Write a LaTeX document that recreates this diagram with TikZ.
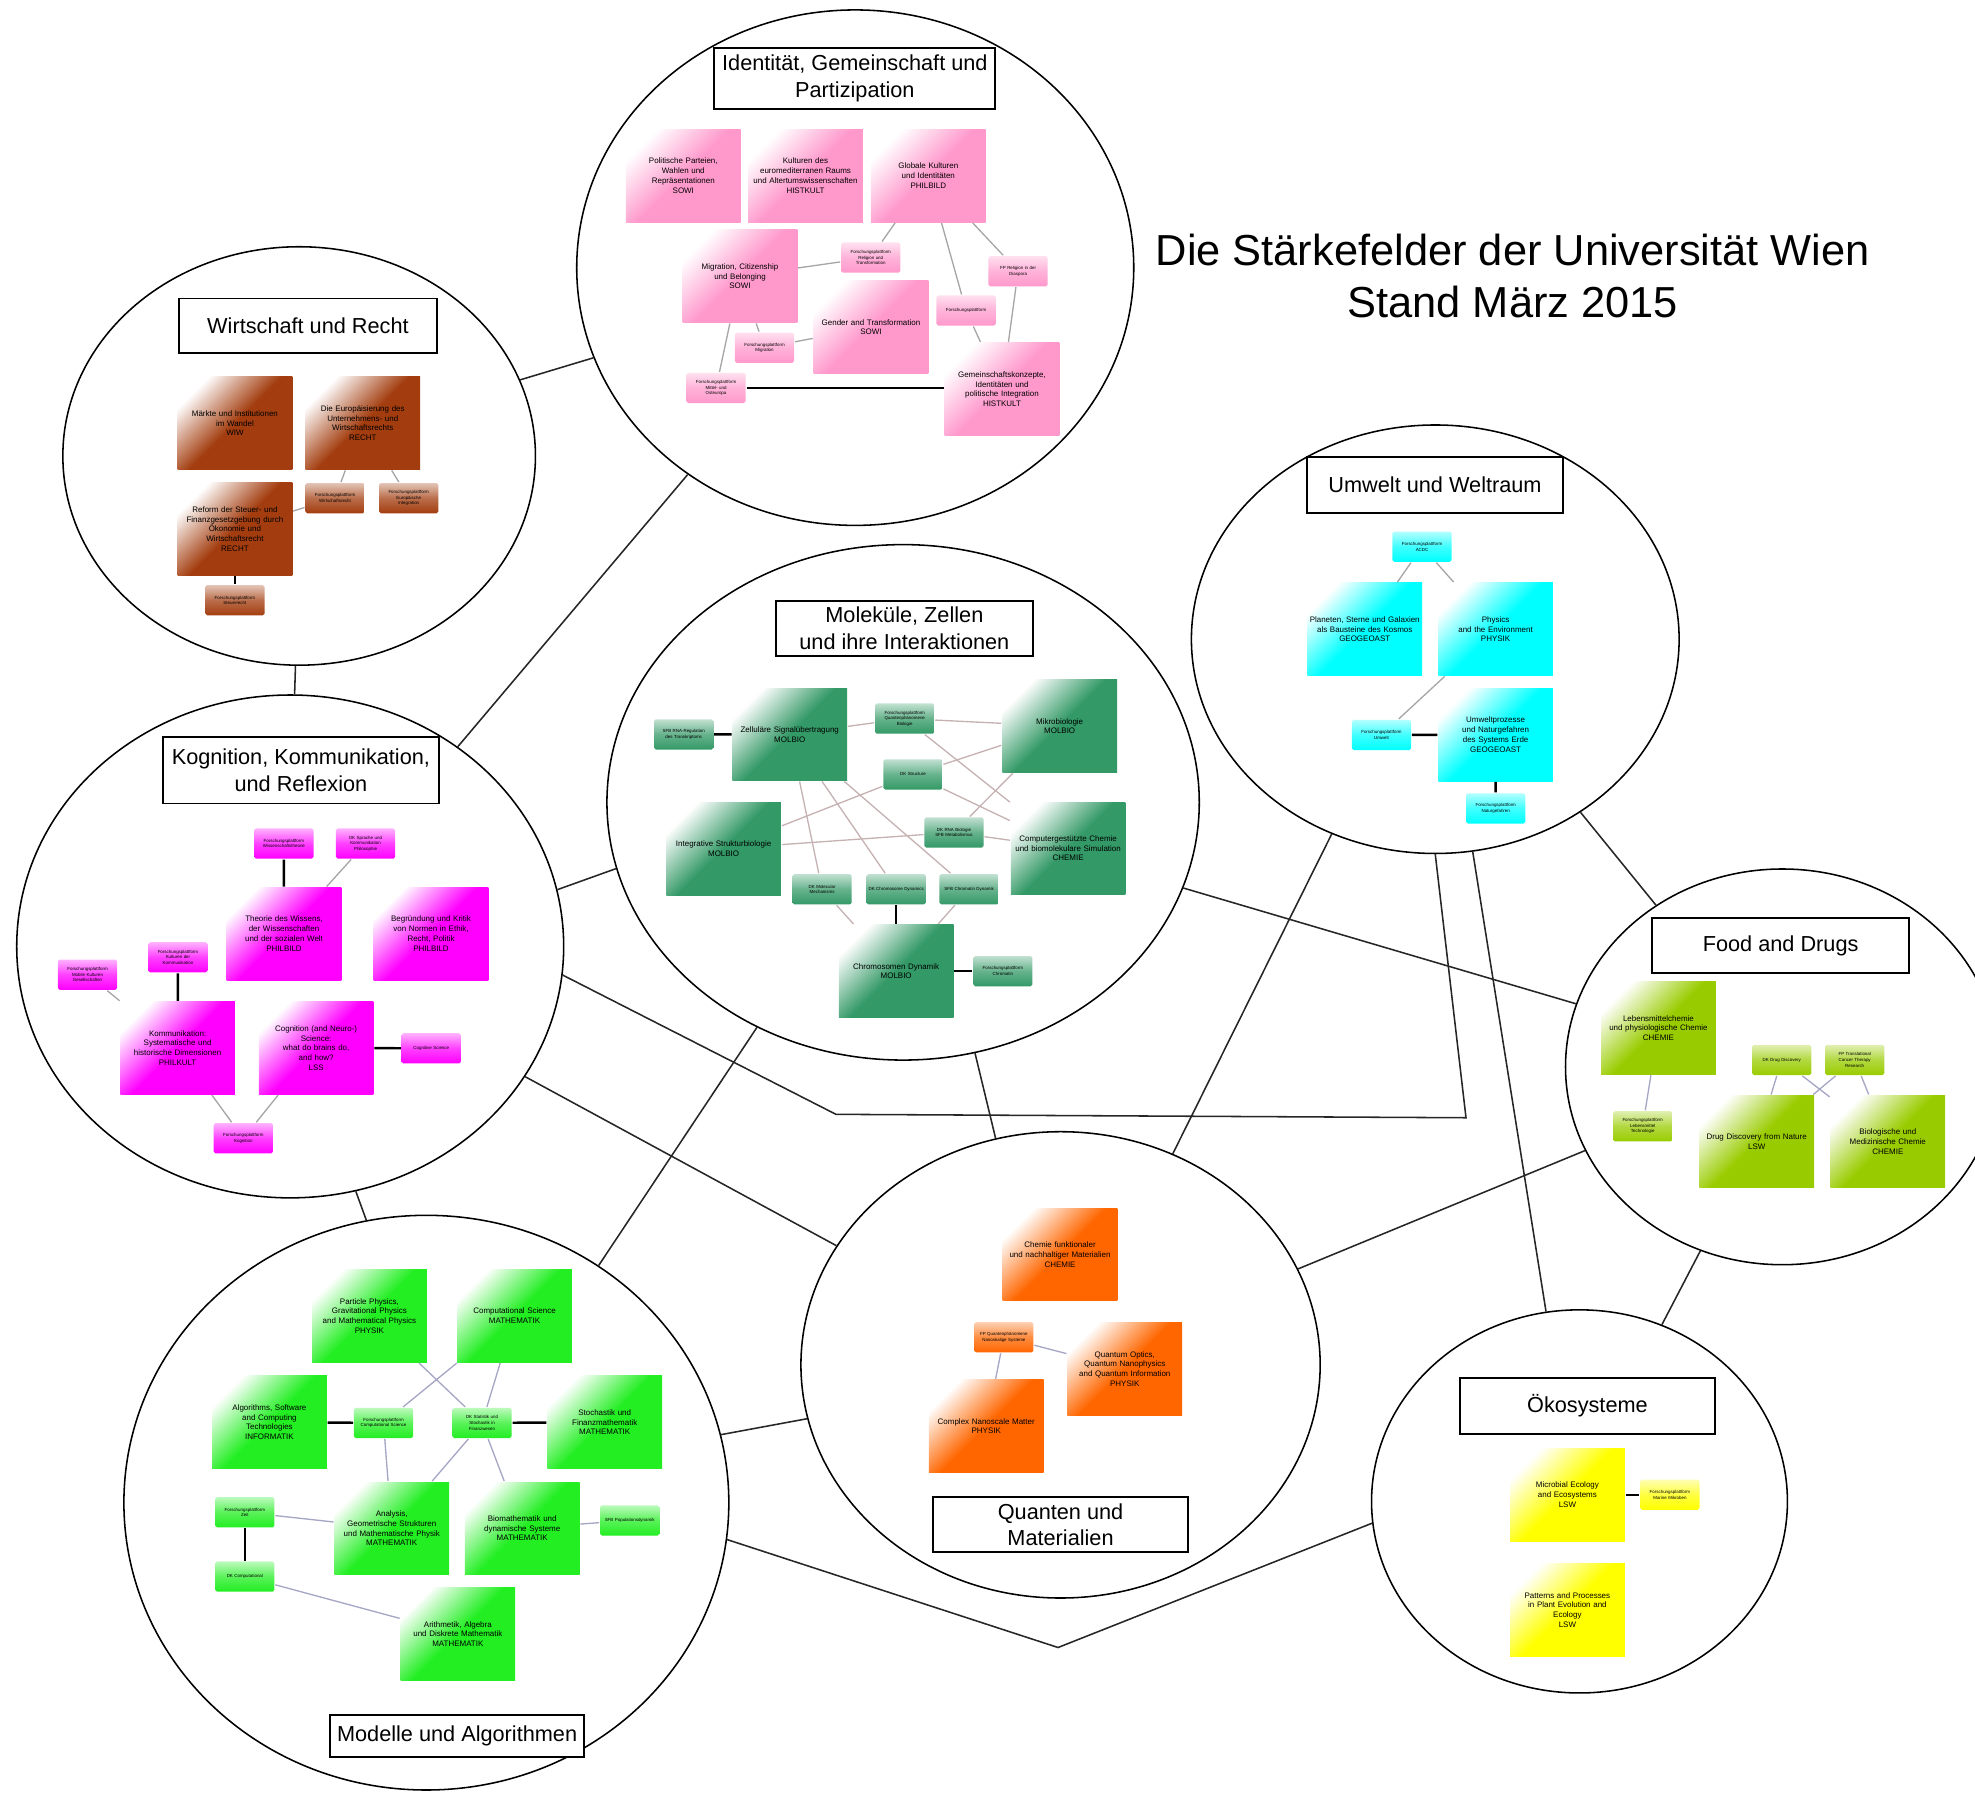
\documentclass[tikz,border=0pt]{standalone}
\usepackage{fontspec}
\setmainfont{Liberation Sans}
\usetikzlibrary{shapes.geometric}

\definecolor{identpink}{HTML}{FF99CC}
\definecolor{wirtbrown}{HTML}{A33D0F}
\definecolor{kognmagenta}{HTML}{FF00FF}
\definecolor{molekgreen}{HTML}{339966}
\definecolor{umweltcyan}{HTML}{00FFFF}
\definecolor{foodgreen}{HTML}{99CC00}
\definecolor{oekoyellow}{HTML}{FFFF00}
\definecolor{quantorange}{HTML}{FF6600}
\definecolor{modellgreen}{HTML}{22EE22}

\tikzset{
  field/.style={draw, ellipse, inner sep=0pt, line width=0.35pt},
  fieldtitle/.style={draw, fill=white, line width=0.45pt, align=center, inner sep=0pt,
    font=\fontsize{4.9}{6}\selectfont},
  bigbox/.style={top color=white, bottom color=#1, middle color=#1, shading angle=45,
    minimum width=0.91cm, minimum height=0.735cm, text width=0.9cm, inner sep=0pt,
    align=center, font=\fontsize{1.8}{2.2}\selectfont},
  smallbox/.style={top color=#1!30, bottom color=#1, middle color=#1!75, rounded corners=0.4pt,
    minimum width=0.47cm, minimum height=0.24cm, text width=0.46cm, inner sep=0pt,
    align=center, font=\fontsize{1.0}{1.25}\selectfont},
  link/.style={draw=#1, line width=0.3pt},
  link/.default=black!35,
  tie/.style={draw=black, line width=0.55pt},
  bond/.style={draw=black!85, line width=0.35pt},
}

\begin{document}
\begin{tikzpicture}[x=0.01cm, y=-0.01cm]
\useasboundingbox (0,0) rectangle (1568,1424);

\node[font=\fontsize{9.8}{11.8}\selectfont, align=center] (heading) at (1201,219)
  {Die Stärkefelder der Universität Wien\\Stand März 2015};

% the nine fields
\node[field, minimum width=4.42cm, minimum height=4.09cm] (ident) at (679,212.5) {};
\node[field, minimum width=3.75cm, minimum height=3.32cm] (wirt) at (237.5,362) {};
\node[field, minimum width=4.34cm, minimum height=3.99cm] (kogn) at (230.4,751.4) {};
\node[field, minimum width=4.70cm, minimum height=4.09cm] (molek) at (717,637) {};
\node[field, minimum width=3.87cm, minimum height=3.40cm] (umwelt) at (1139.5,507.5) {};
\node[field, minimum width=3.44cm, minimum height=3.14cm] (food) at (1415,847) {};
\node[field, minimum width=3.30cm, minimum height=3.04cm] (oeko) at (1254,1192) {};
\node[field, minimum width=4.12cm, minimum height=3.70cm] (quanten) at (842,1083.6) {};
\node[field, minimum width=4.80cm, minimum height=4.56cm] (modelle) at (338.5,1193) {};

% links between the fields
\coordinate (kbendA) at (663.7,884.7);
\coordinate (kbendB) at (1163.9,887.4);
\coordinate (mbend) at (840,1308);
\draw[bond] (wirt.19) -- (ident.199);
\draw[bond] (wirt.269) -- (kogn.89);
\draw[bond] (ident.231) -- (kogn.50);
\draw[bond] (kogn.12) -- (molek.193);
\draw[bond] (kogn.285) -- (modelle.102);
\draw[bond] (kogn.331) -- (quanten.152);
\draw[bond] (kogn.354) -- (kbendA) -- (kbendB) -- (umwelt.270);
\draw[bond] (molek.343) -- (food.163);
\draw[bond] (molek.286) -- (quanten.106);
\draw[bond] (molek.237) -- (modelle.54);
\draw[bond] (umwelt.242) -- (quanten.62);
\draw[bond] (umwelt.310) -- (food.128);
\draw[bond] (umwelt.280) -- (oeko.100);
\draw[bond] (food.203) -- (quanten.22);
\draw[bond] (food.246) -- (oeko.65);
\draw[bond] (modelle.13) -- (quanten.192);
\draw[bond] (modelle.353) -- (mbend) -- (oeko.186);

% field titles
\node[fieldtitle, minimum width=2.23cm, minimum height=0.485cm] (identtitle) at (678.7,62.3) {Identität, Gemeinschaft und\\Partizipation};
\node[fieldtitle, minimum width=2.05cm, minimum height=0.43cm] (wirttitle) at (244.5,258.5) {Wirtschaft und Recht};
\node[fieldtitle, minimum width=2.19cm, minimum height=0.53cm] (kogntitle) at (238.9,611.4) {Kognition, Kommunikation,\\und Reflexion};
\node[fieldtitle, minimum width=2.04cm, minimum height=0.44cm] (molektitle) at (718,499) {Moleküle, Zellen\\und ihre Interaktionen};
\node[fieldtitle, minimum width=2.03cm, minimum height=0.44cm] (umwelttitle) at (1139.3,385) {Umwelt und Weltraum};
\node[fieldtitle, minimum width=2.04cm, minimum height=0.43cm] (foodtitle) at (1413.7,750.6) {Food and Drugs};
\node[fieldtitle, minimum width=2.03cm, minimum height=0.44cm] (oekotitle) at (1260.3,1116.2) {Ökosysteme};
\node[fieldtitle, minimum width=2.02cm, minimum height=0.44cm] (quantentitle) at (842,1210.5) {Quanten und\\Materialien};
\node[fieldtitle, minimum width=2.02cm, minimum height=0.335cm] (modelletitle) at (362.9,1378.5) {Modelle und Algorithmen};

% Identitaet, Gemeinschaft und Partizipation
\node[bigbox=identpink] (ib1) at (542.5,139.5) {Politische Parteien,\\Wahlen und\\Repräsentationen\\SOWI};
\node[bigbox=identpink] (ib2) at (639.5,139.5) {Kulturen des\\euromediterranen Raums\\und Altertumswissenschaften\\HISTKULT};
\node[bigbox=identpink] (ib3) at (737,139.5) {Globale Kulturen\\und Identitäten\\PHILBILD};
\node[bigbox=identpink] (ib4) at (587.5,219.3) {Migration, Citizenship\\und Belonging\\SOWI};
\node[bigbox=identpink] (ib5) at (691.5,259.8) {Gender and Transformation\\SOWI};
\node[bigbox=identpink] (ib6) at (795.5,309) {Gemeinschaftskonzepte,\\Identitäten und\\politische Integration\\HISTKULT};
\node[smallbox=identpink] (is1) at (691.3,204.5) {Forschungsplattform\\Religion und\\Transformation};
\node[smallbox=identpink] (is2) at (808.3,215.3) {FP Religion in der\\Diaspora};
\node[smallbox=identpink] (is3) at (767,246.5) {Forschungsplattform};
\node[smallbox=identpink] (is4) at (607,276) {Forschungsplattform\\Migration};
\node[smallbox=identpink] (is5) at (568.5,308) {Forschungsplattform\\Mittel- und\\Osteuropa};
\draw[link] (ib3) -- (is1);
\draw[link] (is1) -- (ib4);
\draw[link] (ib3) -- (is3);
\draw[link] (is3) -- (ib6);
\draw[link] (ib3) -- (is2);
\draw[link] (is2) -- (ib6);
\draw[link] (ib4) -- (is4);
\draw[link] (is4) -- (ib5);
\draw[link] (ib4) -- (is5);
\draw[tie] (is5.east) -- (is5.east -| ib6.west);

% Wirtschaft und Recht
\node[bigbox=wirtbrown] (wb1) at (186.5,336) {Märkte und Institutionen\\im Wandel\\WIW};
\node[bigbox=wirtbrown] (wb2) at (288,336) {Die Europäisierung des\\Unternehmens- und\\Wirtschaftsrechts\\RECHT};
\node[bigbox=wirtbrown] (wb3) at (186.5,420) {Reform der Steuer- und\\Finanzgesetzgebung durch\\Ökonomie und\\Wirtschaftsrecht\\RECHT};
\node[smallbox=wirtbrown] (ws1) at (266,395.5) {Forschungsplattform\\Wirtschaftsrecht};
\node[smallbox=wirtbrown] (ws2) at (324.5,395.5) {Forschungsplattform\\Europäische\\Integration};
\node[smallbox=wirtbrown] (ws3) at (186.5,476.5) {Forschungsplattform\\Steuerrecht};
\draw[link] (wb2) -- (ws1);
\draw[link] (wb2) -- (ws2);
\draw[link] (wb3) -- (ws1);
\draw[tie] (wb3) -- (ws3);

% Kognition, Kommunikation und Reflexion
\node[bigbox=kognmagenta] (kb1) at (225.5,741.3) {Theorie des Wissens,\\der Wissenschaften\\und der sozialen Welt\\PHILBILD};
\node[bigbox=kognmagenta] (kb2) at (342.2,741.3) {Begründung und Kritik\\von Normen in Ethik,\\Recht, Politik\\PHILBILD};
\node[bigbox=kognmagenta] (kb3) at (141,832) {Kommunikation:\\Systematische und\\historische Dimensionen\\PHILKULT};
\node[bigbox=kognmagenta] (kb4) at (251,832) {Cognition (and Neuro-)\\Science:\\what do brains do,\\and how?\\LSS};
\node[smallbox=kognmagenta] (ks1) at (225.4,669.7) {Forschungsplattform\\Wissenschaftstheorie};
\node[smallbox=kognmagenta] (ks2) at (290.2,669.7) {DK Sprache und\\Kommunikation\\Philosophie};
\node[smallbox=kognmagenta] (ks3) at (141.3,760) {Forschungsplattform\\Kulturen der\\Kommunikation};
\node[smallbox=kognmagenta] (ks4) at (69.5,773.8) {Forschungsplattform\\Mobile Kulturen\\Gesellschaften};
\node[smallbox=kognmagenta] (ks5) at (342.4,832.3) {Cognitive Science};
\node[smallbox=kognmagenta] (ks6) at (193.2,903.7) {Forschungsplattform\\Kognition};
\draw[tie] (ks1) -- (kb1);
\draw[link] (ks2) -- (kb1);
\draw[tie] (ks3) -- (kb3);
\draw[link] (ks4) -- (kb3);
\draw[tie] (kb4) -- (ks5);
\draw[link] (kb3) -- (ks6);
\draw[link] (kb4) -- (ks6);

% Molekuele, Zellen und ihre Interaktionen
\node[bigbox=molekgreen] (mb1) at (627,583) {Zelluläre Signalübertragung\\MOLBIO};
\node[bigbox=molekgreen] (mb2) at (841.3,576.5) {Mikrobiologie\\MOLBIO};
\node[bigbox=molekgreen] (mb3) at (574.5,673.8) {Integrative Strukturbiologie\\MOLBIO};
\node[bigbox=molekgreen] (mb4) at (848,673.5) {Computergestützte Chemie\\und biomolekulare Simulation\\CHEMIE};
\node[bigbox=molekgreen] (mb5) at (711.5,771) {Chromosomen Dynamik\\MOLBIO};
\node[smallbox=molekgreen] (ms1) at (542.8,583.1) {SFB RNA-Regulation\\des Transkriptoms};
\node[smallbox=molekgreen] (ms2) at (718.3,570.5) {Forschungsplattform\\Quantenphänomene\\Biologie};
\node[smallbox=molekgreen] (ms3) at (724.8,614.8) {DK Structure};
\node[smallbox=molekgreen] (ms4) at (757.4,660.9) {DK RNA Biologie\\SFB Metabolismus};
\node[smallbox=molekgreen] (ms5) at (652.7,706) {DK Molecular\\Mechanisms};
\node[smallbox=molekgreen] (ms6) at (711.5,706) {DK Chromosome Dynamics};
\node[smallbox=molekgreen] (ms7) at (769.4,706) {SFB Chromatin Dynamik};
\node[smallbox=molekgreen] (ms8) at (796.2,771) {Forschungsplattform\\Chromatin};
\draw[tie] (ms1) -- (mb1);
\draw[link=red!25!black!30] (mb1) -- (ms2);
\draw[link=red!25!black!30] (ms2) -- (mb2);
\draw[link=red!25!black!30] (ms2) -- (mb4);
\draw[link=red!25!black!30] (ms3) -- (mb2);
\draw[link=red!25!black!30] (ms3) -- (mb3);
\draw[link=red!25!black!30] (ms3) -- (mb4);
\draw[link=red!25!black!30] (ms4) -- (mb3);
\draw[link=red!25!black!30] (ms4) -- (mb4);
\draw[link=red!25!black!30] (ms4) -- (mb2);
\draw[link=red!25!black!30] (mb1) -- (ms5);
\draw[link=red!25!black!30] (mb1) -- (ms6);
\draw[link=red!25!black!30] (mb1) -- (ms7);
\draw[link=red!25!black!30] (ms5) -- (mb5);
\draw[link=red!25!black!30] (ms7) -- (mb5);
\draw[tie] (ms6) -- (mb5);
\draw[tie] (mb5) -- (ms8);

% Umwelt und Weltraum
\node[smallbox=umweltcyan] (us0) at (1129,434) {Forschungsplattform\\ACDC};
\node[bigbox=umweltcyan] (ub1) at (1083.5,499.5) {Planeten, Sterne und Galaxien\\als Bausteine des Kosmos\\GEOGEOAST};
\node[bigbox=umweltcyan] (ub2) at (1187.4,499.5) {Physics\\and the Environment\\PHYSIK};
\node[bigbox=umweltcyan] (ub3) at (1187.4,583.3) {Umweltprozesse\\und Naturgefahren\\des Systems Erde\\GEOGEOAST};
\node[smallbox=umweltcyan] (us1) at (1096.8,583.5) {Forschungsplattform\\Umwelt};
\node[smallbox=umweltcyan] (us2) at (1187.5,641.8) {Forschungsplattform\\Naturgefahren};
\draw[link] (us0) -- (ub1);
\draw[link] (us0) -- (ub2);
\draw[link] (ub2) -- (us1);
\draw[tie] (us1) -- (ub3);
\draw[tie] (ub3) -- (us2);

% Food and Drugs
\node[bigbox=foodgreen] (fb1) at (1316.7,816.2) {Lebensmittelchemie\\und physiologische Chemie\\CHEMIE};
\node[smallbox=foodgreen] (fs1) at (1304.2,894.2) {Forschungsplattform\\Lebensmittel\\Technologie};
\node[smallbox=foodgreen] (fs2) at (1414.5,841.5) {DK Drug Discovery};
\node[smallbox=foodgreen] (fs3) at (1472.5,841.5) {FP Translational\\Cancer Therapy\\Research};
\node[bigbox=foodgreen] (fb2) at (1394.7,906.4) {Drug Discovery from Nature\\LSW};
\node[bigbox=foodgreen] (fb3) at (1498.8,906.4) {Biologische und\\Medizinische Chemie\\CHEMIE};
\draw[link=blue!35!black!35] (fb1) -- (fs1);
\draw[link=blue!35!black!35] (fs2) -- (fb2);
\draw[link=blue!35!black!35] (fs2) -- (fb3);
\draw[link=blue!35!black!35] (fs3) -- (fb2);
\draw[link=blue!35!black!35] (fs3) -- (fb3);

% Oekosysteme
\node[bigbox=oekoyellow] (ob1) at (1244.4,1186.7) {Microbial Ecology\\and Ecosystems\\LSW};
\node[smallbox=oekoyellow] (os1) at (1325.8,1186.7) {Forschungsplattform\\Marine Mikroben};
\node[bigbox=oekoyellow] (ob2) at (1244.4,1278.2) {Patterns and Processes\\in Plant Evolution and\\Ecology\\LSW};
\draw[tie] (ob1) -- (os1);

% Quanten und Materialien
\node[bigbox=quantorange] (qb1) at (841.6,996) {Chemie funktionaler\\und nachhaltiger Materialien\\CHEMIE};
\node[smallbox=quantorange] (qs1) at (797,1061.7) {FP Quantenphänomene\\Nanoskalige Systeme};
\node[bigbox=quantorange] (qb2) at (893,1086.7) {Quantum Optics,\\Quantum Nanophysics\\and Quantum Information\\PHYSIK};
\node[bigbox=quantorange] (qb3) at (783,1132.3) {Complex Nanoscale Matter\\PHYSIK};
\draw[link=blue!35!black!35] (qs1) -- (qb2);
\draw[link=blue!35!black!35] (qs1) -- (qb3);

% Modelle und Algorithmen
\node[bigbox=modellgreen] (db1) at (293.3,1044.7) {Particle Physics,\\Gravitational Physics\\and Mathematical Physics\\PHYSIK};
\node[bigbox=modellgreen] (db2) at (408.5,1044.7) {Computational Science\\MATHEMATIK};
\node[bigbox=modellgreen] (db3) at (213.9,1129.1) {Algorithms, Software\\and Computing\\Technologies\\INFORMATIK};
\node[bigbox=modellgreen] (db4) at (480.1,1129.1) {Stochastik und\\Finanzmathematik\\MATHEMATIK};
\node[smallbox=modellgreen] (ds1) at (304.5,1129.7) {Forschungsplattform\\Computational Science};
\node[smallbox=modellgreen] (ds2) at (382.7,1129.7) {DK Statistik und\\Stochastik in\\Finanzwesen};
\node[bigbox=modellgreen] (db5) at (311,1213.4) {Analysis,\\Geometrische Strukturen\\und Mathematische Physik\\MATHEMATIK};
\node[bigbox=modellgreen] (db6) at (414.6,1213.4) {Biomathematik und\\dynamische Systeme\\MATHEMATIK};
\node[smallbox=modellgreen] (ds3) at (194.4,1200.6) {Forschungsplattform\\Zeit};
\node[smallbox=modellgreen] (ds4) at (194.4,1251.7) {DK Computational};
\node[smallbox=modellgreen] (ds5) at (499.9,1207.1) {SFB Populationsdynamik};
\node[bigbox=modellgreen] (db7) at (363.5,1297.3) {Arithmetik, Algebra\\und Diskrete Mathematik\\MATHEMATIK};
\draw[tie] (db3) -- (ds1);
\draw[tie] (ds2) -- (db4);
\draw[tie] (ds3) -- (ds4);
\draw[link=blue!35!black!35] (db1) -- (ds2);
\draw[link=blue!35!black!35] (db2) -- (ds1);
\draw[link=blue!35!black!35] (db2) -- (ds2);
\draw[link=blue!35!black!35] (ds2) -- (db6);
\draw[link=blue!35!black!35] (ds1) -- (db5);
\draw[link=blue!35!black!35] (ds2) -- (db5);
\draw[link=blue!35!black!35] (ds3) -- (db5);
\draw[link=blue!35!black!35] (ds4) -- (db7);
\draw[link=blue!35!black!35] (db6) -- (ds5);

\end{tikzpicture}
\end{document}
